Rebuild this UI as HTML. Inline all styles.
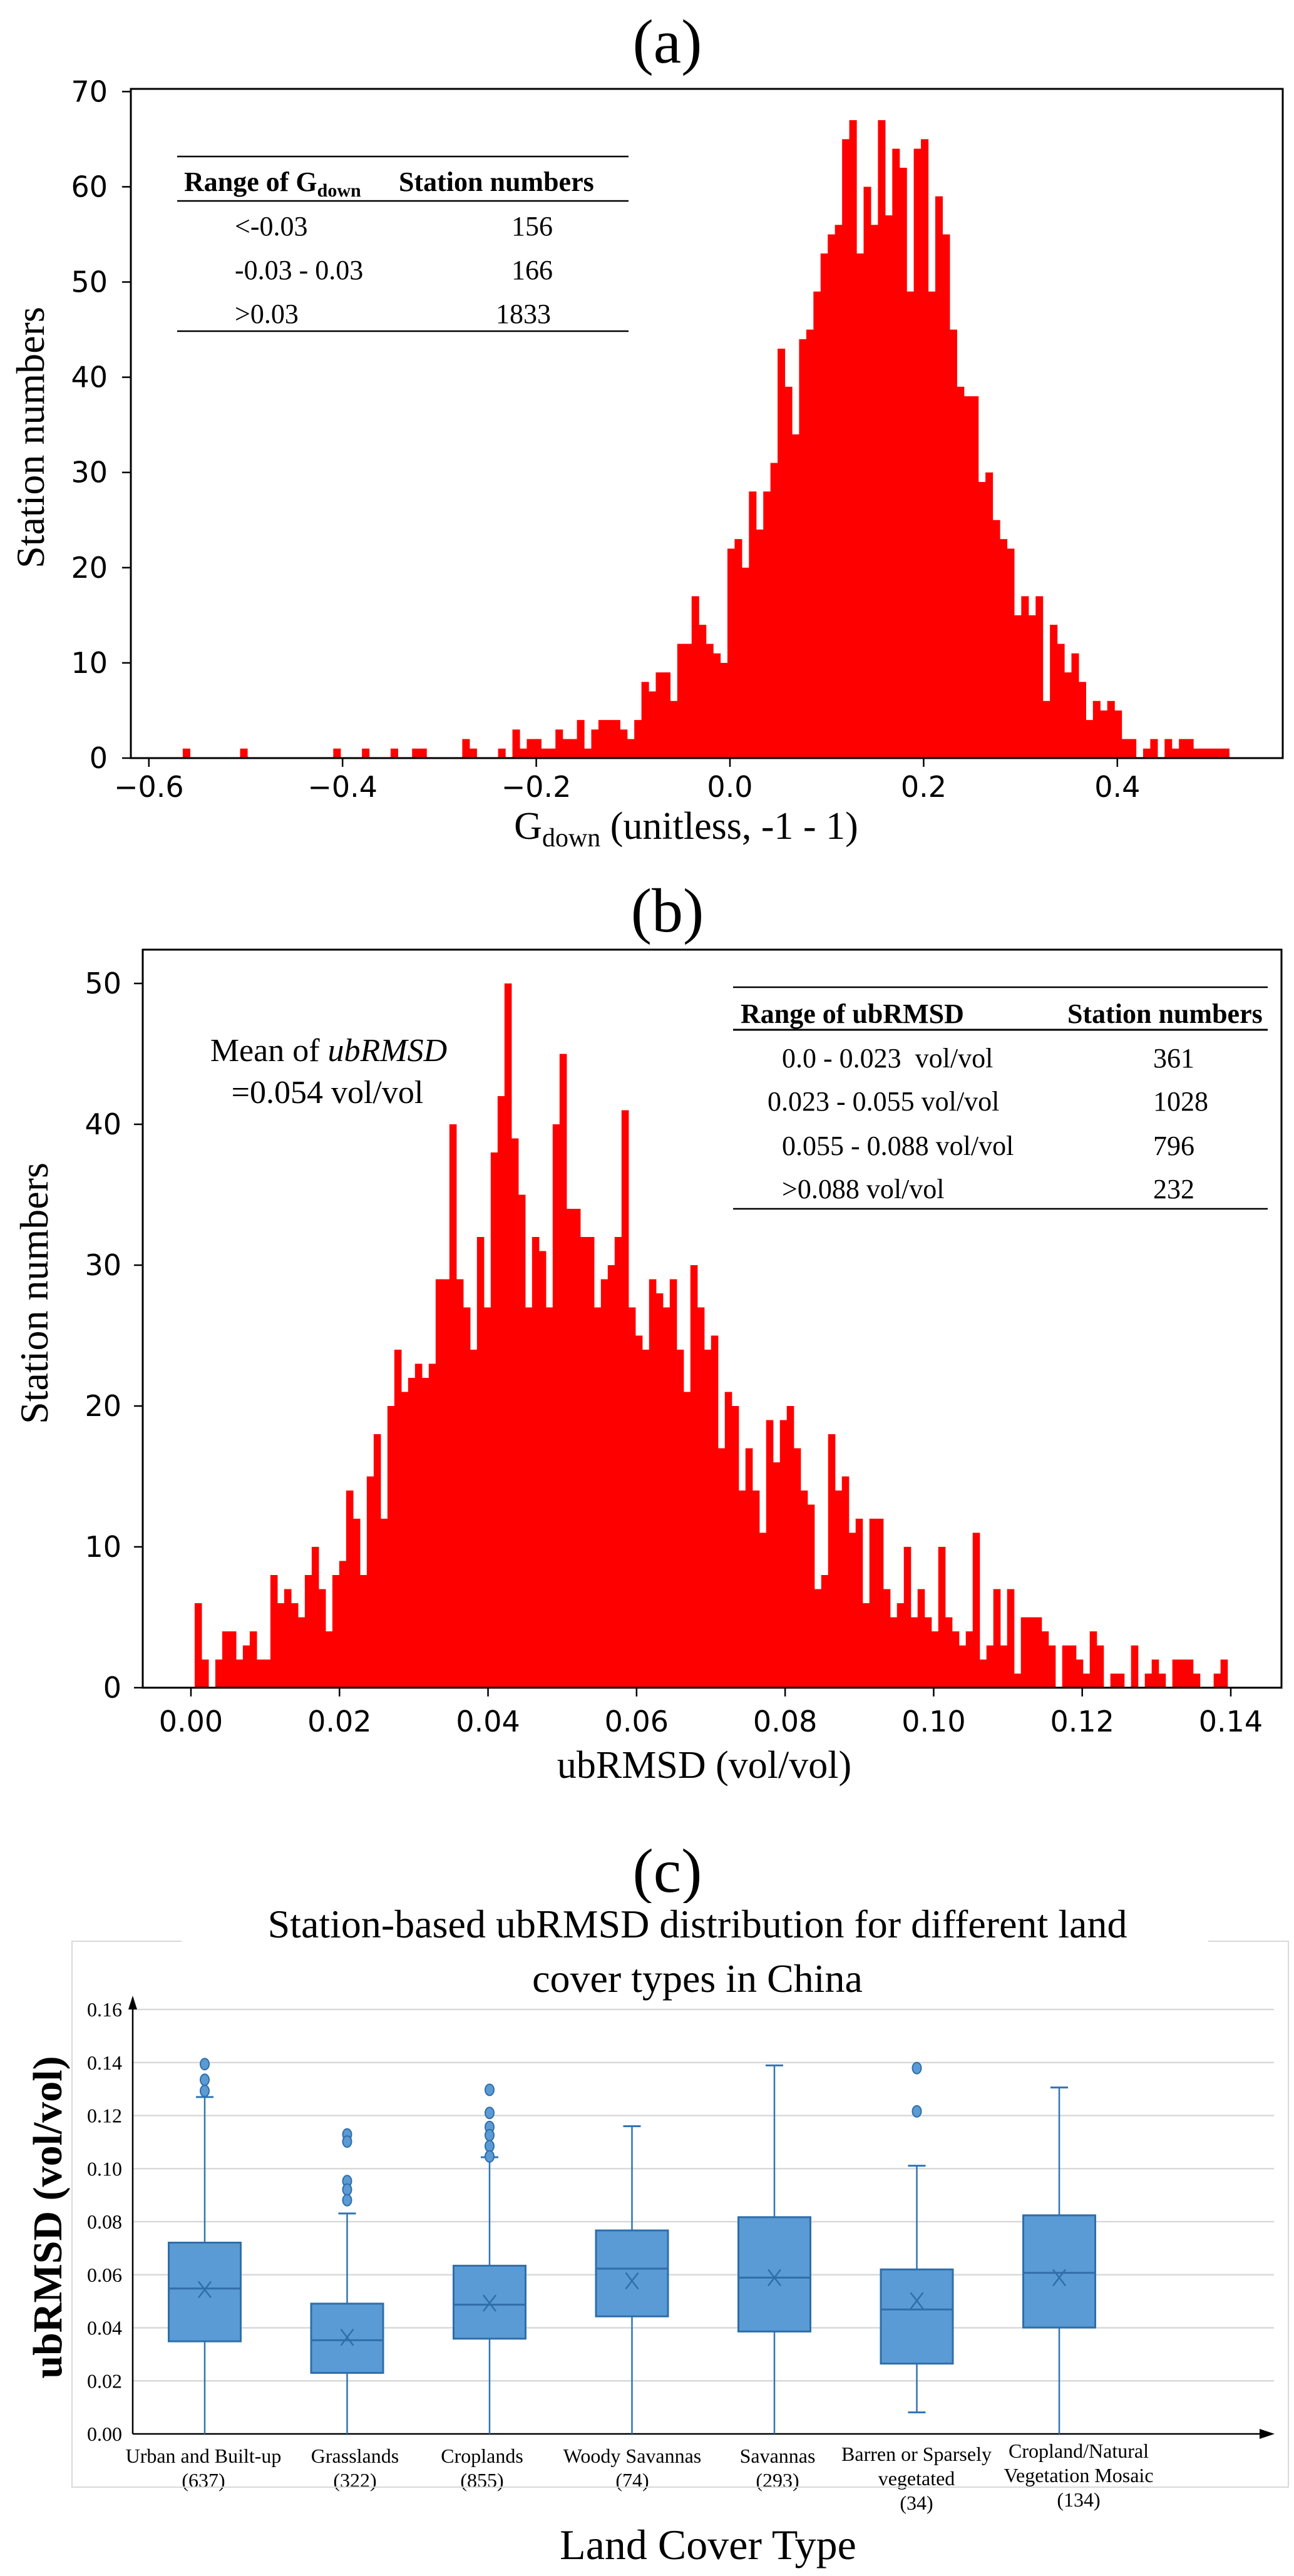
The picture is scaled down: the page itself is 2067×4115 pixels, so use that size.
<!DOCTYPE html>
<html><head><meta charset="utf-8">
<style>
html,body{margin:0;padding:0;background:#fff;}
svg{display:block;}
.serif{font-family:"Liberation Serif","Times New Roman",serif;}
.sans{font-family:"DejaVu Sans","Liberation Sans",sans-serif;}
</style></head>
<body>
<svg id="fig" width="2067" height="4115" viewBox="0 0 2067 4115" xmlns="http://www.w3.org/2000/svg">
  <text x="1066" y="100" font-size="100" text-anchor="middle" class="serif">(a)</text>
  <text x="1066" y="1488" font-size="100" text-anchor="middle" class="serif">(b)</text>
  <text x="1066" y="3022" font-size="100" text-anchor="middle" class="serif">(c)</text>

  <g id="panelA"></g>
  <g id="panelB"></g>
  <g id="panelC"></g>

  <text transform="translate(70,699) rotate(-90)" font-size="64" text-anchor="middle" class="serif">Station numbers</text>
  <text x="1096" y="1340" font-size="62" text-anchor="middle" class="serif">G<tspan font-size="42" dy="12">down</tspan><tspan dy="-12"> (unitless, -1 - 1)</tspan></text>

  <g class="serif" font-size="44">
    <line x1="283" y1="250" x2="1004" y2="250" stroke="#000" stroke-width="2.5"/>
    <text x="294" y="305" font-weight="bold">Range of G<tspan font-size="30" dy="9">down</tspan></text>
    <text x="637" y="305" font-weight="bold">Station numbers</text>
    <line x1="283" y1="321" x2="1004" y2="321" stroke="#000" stroke-width="2.5"/>
    <text x="375" y="376">&lt;-0.03</text><text x="817" y="376">156</text>
    <text x="375" y="446">-0.03 - 0.03</text><text x="817" y="446">166</text>
    <text x="375" y="516">&gt;0.03</text><text x="792" y="516">1833</text>
    <line x1="283" y1="529" x2="1004" y2="529" stroke="#000" stroke-width="2.5"/>
  </g>

  <text transform="translate(76,2066) rotate(-90)" font-size="64" text-anchor="middle" class="serif">Station numbers</text>
  <text x="1125" y="2840" font-size="62" text-anchor="middle" class="serif">ubRMSD (vol/vol)</text>
  <text x="525" y="1695" font-size="52" text-anchor="middle" class="serif">Mean of <tspan font-style="italic">ubRMSD</tspan></text>
  <text x="523" y="1762" font-size="52" text-anchor="middle" class="serif">=0.054 vol/vol</text>
  <g class="serif" font-size="44">
    <line x1="1171" y1="1577" x2="2025" y2="1577" stroke="#000" stroke-width="2.5"/>
    <text x="1183" y="1634" font-weight="bold">Range of ubRMSD</text>
    <text x="1705" y="1634" font-weight="bold">Station numbers</text>
    <line x1="1171" y1="1645" x2="2025" y2="1645" stroke="#000" stroke-width="3"/>
    <text x="1249" y="1705" xml:space="preserve">0.0 - 0.023  vol/vol</text><text x="1842" y="1705">361</text>
    <text x="1226" y="1774">0.023 - 0.055 vol/vol</text><text x="1842" y="1774">1028</text>
    <text x="1249" y="1845">0.055 - 0.088 vol/vol</text><text x="1842" y="1845">796</text>
    <text x="1249" y="1914">&gt;0.088 vol/vol</text><text x="1842" y="1914">232</text>
    <line x1="1171" y1="1931" x2="2025" y2="1931" stroke="#000" stroke-width="2.5"/>
  </g>

  <rect x="115" y="3101" width="1943" height="872" fill="none" stroke="#d9d9d9" stroke-width="2"/>
  <rect x="290" y="3040" width="1640" height="140" fill="#fff"/>
  <text x="1114" y="3095" font-size="64" text-anchor="middle" class="serif">Station-based ubRMSD distribution for different land</text>
  <text x="1114" y="3182" font-size="64" text-anchor="middle" class="serif">cover types in China</text>
  <text transform="translate(98,3542) rotate(-90)" font-size="66" font-weight="bold" text-anchor="middle" class="serif">ubRMSD (vol/vol)</text>
  <text x="1131" y="4088" font-size="68" text-anchor="middle" class="serif">Land Cover Type</text>
</svg>

<script>
const aBinStart = -0.565;
const aBinWidth = 0.0074;
const aCounts = [1,0,0,0,0,0,0,0,1,0, 0,0,0,0,0,0,0,0,0,0, 0,1,0,0,0,1,0,0,0,1, 0,0,1,1,0,0,0,0,0,2, 1,0,0,0,1,0,
 3,1,2,2,1,1,3,2,2,4, 1,3,4,4,4,3,2,4,8,7, 9,9,6,12,12,17,14,12,11,10, 22,23,20,28,24,28,31,43,39,34,
 44,45,49,53,55,56,65,67,53,60, 56,67,57,64,62,49,64,65,49,59, 55,45,39,38,38,29,30,25,23,22,
 15,17,15,17,6,14,12,9,11,8, 4,6,5,6,5,2,2,0,1,2, 0,2,1,2,2,1,1,1,1,1];
const aXTicks = [-0.6,-0.4,-0.2,0.0,0.2,0.4];
const aXTickLabels = ["\u22120.6","\u22120.4","\u22120.2","0.0","0.2","0.4"];
const aYTicks = [0,10,20,30,40,50,60,70];

const bBinStart = 0.0005;
const bBinWidth = 0.000927;
const bCounts = [6,2,0,2,4,4,2,3,4,2,2,8,6,7,6,5,8,10,7,4,8,9,
 14,12,8,15,18,12,20,24,21,22,23,22,23,29,29,40,29,27,24,32,27,38,42,50,39,35,27,32,31,27,40,45,34,34,32,32,27,29,30,32,41,27,
 25,24,29,28,27,29,24,21,30,27, 24,25,17,21,20,14,17,14,11,19, 16,19,20,17,14,13,7,8,18,14,
 15,11,12,6,12,12,7,5,6,10, 5,7,5,4,10,5,4,3,4,11, 2,3,7,3,7,1,5,5,5,4, 3,0,3,3,2,1,4,3,0,1, 1,0,3,0,1,2,1,0,2,2, 2,1,0,0,1,2];
const bXTicks = [0,0.02,0.04,0.06,0.08,0.10,0.12,0.14];
const bXTickLabels = ["0.00","0.02","0.04","0.06","0.08","0.10","0.12","0.14"];
const bYTicks = [0,10,20,30,40,50];

const cCategories = ["Urban and Built-up","Grasslands","Croplands","Woody Savannas","Savannas","Barren or Sparsely vegetated","Cropland/Natural Vegetation Mosaic"];
const cLabelLines = [["Urban and Built-up","(637)"],["Grasslands","(322)"],["Croplands","(855)"],["Woody Savannas","(74)"],["Savannas","(293)"],["Barren or Sparsely","vegetated","(34)"],["Cropland/Natural","Vegetation Mosaic","(134)"]];
const cWhiskerLow  = [0, 0, 0, 0, 0, 0.0081, 0];
const cQ1          = [0.0349, 0.0230, 0.0359, 0.0443, 0.0386, 0.0265, 0.0401];
const cMedian      = [0.0548, 0.0353, 0.0487, 0.0623, 0.0589, 0.0469, 0.0607];
const cMean        = [0.0544, 0.0364, 0.0493, 0.0577, 0.0589, 0.0502, 0.0589];
const cQ3          = [0.0721, 0.0491, 0.0634, 0.0767, 0.0817, 0.0620, 0.0824];
const cWhiskerHigh = [0.127, 0.0831, 0.1043, 0.116, 0.1389, 0.1011, 0.1306];
const cOutliers = [[0.1394,0.1335,0.1293],[0.1129,0.1102,0.0953,0.0921,0.0881],[0.1297,0.121,0.1157,0.1126,0.1085,0.1046],[],[],[0.1379,0.1216],[]];
const cYTicks = [0,0.02,0.04,0.06,0.08,0.10,0.12,0.14,0.16];
const cYTickLabels = ["0.00","0.02","0.04","0.06","0.08","0.10","0.12","0.14","0.16"];

const NS = "http://www.w3.org/2000/svg";
function mk(parent, tag, attrs){
  const e = document.createElementNS(NS, tag);
  for (const k in attrs) e.setAttribute(k, attrs[k]);
  parent.appendChild(e);
  return e;
}

(function(){
  const g = document.getElementById('panelA');
  const L=209, R=2049, T=142, B=1211;
  const x = v => 1166 + v*1547;
  const y = v => B - v*15.21;
  aCounts.forEach((c,i)=>{
    if(c<=0) return;
    const x0 = x(aBinStart + i*aBinWidth), x1 = x(aBinStart + (i+1)*aBinWidth);
    const r = mk(g,'rect',{x:x0, y:y(c), width:(x1-x0)+0.6, height:B-y(c), fill:'#ff0000'});
    
    
  });
  const fr = mk(g,'rect',{x:L,y:T,width:R-L,height:B-T,fill:'none',stroke:'#000','stroke-width':3});
  
  
  aXTicks.forEach((t,i)=>{
    mk(g,'line',{x1:x(t),y1:B,x2:x(t),y2:B+14,stroke:'#000','stroke-width':2.5});
    const tx = mk(g,'text',{x:x(t),y:1273,'font-size':46,'text-anchor':'middle',class:'sans'});
    tx.textContent = aXTickLabels[i];
    
    
  });
  aYTicks.forEach(t=>{
    mk(g,'line',{x1:L-14,y1:y(t),x2:L,y2:y(t),stroke:'#000','stroke-width':2.5});
    const tx = mk(g,'text',{x:172,y:y(t)+16,'font-size':46,'text-anchor':'end',class:'sans'});
    tx.textContent = String(t);
    
    
  });
})();

(function(){
  const g = document.getElementById('panelB');
  const L=228, R=2047, T=1517, B=2696;
  const x = v => 305 + v*(1661/0.14);
  const y = v => B - v*22.5;
  bCounts.forEach((c,i)=>{
    if(c<=0) return;
    const x0 = x(bBinStart + i*bBinWidth), x1 = x(bBinStart + (i+1)*bBinWidth);
    const r = mk(g,'rect',{x:x0, y:y(c), width:(x1-x0)+0.6, height:B-y(c), fill:'#ff0000'});
    
    
  });
  const fr = mk(g,'rect',{x:L,y:T,width:R-L,height:B-T,fill:'none',stroke:'#000','stroke-width':3});
  
  
  bXTicks.forEach((t,i)=>{
    mk(g,'line',{x1:x(t),y1:B,x2:x(t),y2:B+14,stroke:'#000','stroke-width':2.5});
    const tx = mk(g,'text',{x:x(t),y:2766,'font-size':46,'text-anchor':'middle',class:'sans'});
    tx.textContent = bXTickLabels[i];
    
    
  });
  bYTicks.forEach(t=>{
    mk(g,'line',{x1:L-14,y1:y(t),x2:L,y2:y(t),stroke:'#000','stroke-width':2.5});
    const tx = mk(g,'text',{x:194,y:y(t)+16,'font-size':46,'text-anchor':'end',class:'sans'});
    tx.textContent = String(t);
    
    
  });
})();

(function(){
  const g = document.getElementById('panelC');
  const X0=212, XR=2035, Y0=3888;
  const y = v => Y0 - v*(678/0.16);
  const xc = i => 327 + i*227.5;
  const bw = 115;
  cYTicks.forEach((t,i)=>{
    if(i>0){
      const gl = mk(g,'line',{x1:X0,y1:y(t),x2:XR,y2:y(t),stroke:'#d9d9d9','stroke-width':2.5});
      
      
    }
    const tx = mk(g,'text',{x:195,y:y(t)+11,'font-size':32,'text-anchor':'end',class:'serif'});
    tx.textContent = cYTickLabels[i];
    
    
  });
  mk(g,'line',{x1:X0,y1:Y0,x2:X0,y2:3200,stroke:'#000','stroke-width':2.5});
  mk(g,'path',{d:`M${X0-7} 3210 L${X0} 3188 L${X0+7} 3210 Z`,fill:'#000'});
  mk(g,'line',{x1:X0,y1:Y0,x2:2020,y2:Y0,stroke:'#000','stroke-width':2.5});
  mk(g,'path',{d:`M2012 ${Y0-8} L2036 ${Y0} L2012 ${Y0+8} Z`,fill:'#000'});

  cCategories.forEach((cat,i)=>{
    const cx = xc(i);
    const grp = mk(g,'g',{});
    
    
    mk(grp,'line',{x1:cx,y1:y(cWhiskerHigh[i]),x2:cx,y2:y(cQ3[i]),stroke:'#2e75b6','stroke-width':2.5});
    mk(grp,'line',{x1:cx,y1:y(cQ1[i]),x2:cx,y2:y(cWhiskerLow[i]),stroke:'#2e75b6','stroke-width':2.5});
    mk(grp,'line',{x1:cx-14,y1:y(cWhiskerHigh[i]),x2:cx+14,y2:y(cWhiskerHigh[i]),stroke:'#2e75b6','stroke-width':3});
    if(cWhiskerLow[i]>0) mk(grp,'line',{x1:cx-14,y1:y(cWhiskerLow[i]),x2:cx+14,y2:y(cWhiskerLow[i]),stroke:'#2e75b6','stroke-width':3});
    mk(grp,'rect',{x:cx-bw/2,y:y(cQ3[i]),width:bw,height:y(cQ1[i])-y(cQ3[i]),fill:'#5b9bd5',stroke:'#2f6ea8','stroke-width':3});
    mk(grp,'line',{x1:cx-bw/2,y1:y(cMedian[i]),x2:cx+bw/2,y2:y(cMedian[i]),stroke:'#2f6ea8','stroke-width':3});
    const my = y(cMean[i]);
    mk(grp,'path',{d:`M${cx-10} ${my-13} L${cx+10} ${my+13} M${cx+10} ${my-13} L${cx-10} ${my+13}`,stroke:'#2f6ea8','stroke-width':2.5,fill:'none'});
    cOutliers[i].forEach(o=>{
      const c = mk(grp,'ellipse',{cx:cx,cy:y(o),rx:7,ry:9,fill:'#5b9bd5',stroke:'#2f6ea8','stroke-width':2});
      
      
    });
    const lines = cLabelLines[i];
    const startY = lines.length===3 ? (i===6 ? 3926 : 3931) : 3934;
    const lx = [325,567,770,1010,1242,1464,1723][i];
    lines.forEach((ln,k)=>{
      const tx = mk(g,'text',{x:lx,y:startY + k*39,'font-size':32,'text-anchor':'middle',class:'serif'});
      tx.textContent = ln;
      
      
    });
  });
})();
</script>
</body></html>
